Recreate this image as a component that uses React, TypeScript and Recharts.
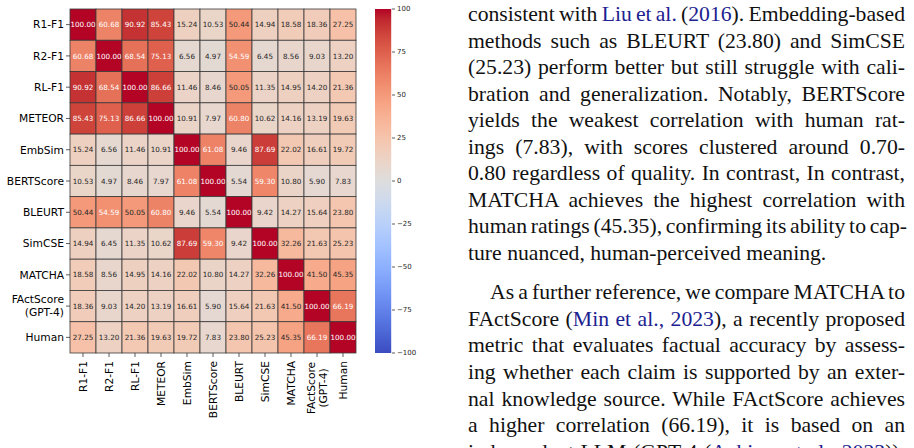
import React from "react";
import { ScatterChart, Scatter, XAxis, YAxis, ComposedChart, Bar } from "recharts";

// ---- data ----
const metrics = [
  "R1-F1", "R2-F1", "RL-F1", "METEOR", "EmbSim", "BERTScore",
  "BLEURT", "SimCSE", "MATCHA", "FActScore\n(GPT-4)", "Human",
];

const r1f1Row = [100.0, 60.68, 90.92, 85.43, 15.24, 10.53, 50.44, 14.94, 18.58, 18.36, 27.25];
const r2f1Row = [60.68, 100.0, 68.54, 75.13, 6.56, 4.97, 54.59, 6.45, 8.56, 9.03, 13.2];
const rlf1Row = [90.92, 68.54, 100.0, 86.66, 11.46, 8.46, 50.05, 11.35, 14.95, 14.2, 21.36];
const meteorRow = [85.43, 75.13, 86.66, 100.0, 10.91, 7.97, 60.8, 10.62, 14.16, 13.19, 19.63];
const embSimRow = [15.24, 6.56, 11.46, 10.91, 100.0, 61.08, 9.46, 87.69, 22.02, 16.61, 19.72];
const bertScoreRow = [10.53, 4.97, 8.46, 7.97, 61.08, 100.0, 5.54, 59.3, 10.8, 5.9, 7.83];
const bleurtRow = [50.44, 54.59, 50.05, 60.8, 9.46, 5.54, 100.0, 9.42, 14.27, 15.64, 23.8];
const simCseRow = [14.94, 6.45, 11.35, 10.62, 87.69, 59.3, 9.42, 100.0, 32.26, 21.63, 25.23];
const matchaRow = [18.58, 8.56, 14.95, 14.16, 22.02, 10.8, 14.27, 32.26, 100.0, 41.5, 45.35];
const factScoreRow = [18.36, 9.03, 14.2, 13.19, 16.61, 5.9, 15.64, 21.63, 41.5, 100.0, 66.19];
const humanRow = [27.25, 13.2, 21.36, 19.63, 19.72, 7.83, 23.8, 25.23, 45.35, 66.19, 100.0];

const correlationRows = [
  r1f1Row, r2f1Row, rlf1Row, meteorRow, embSimRow, bertScoreRow,
  bleurtRow, simCseRow, matchaRow, factScoreRow, humanRow,
];

const colorbarTicks = [-100, -75, -50, -25, 0, 25, 50, 75, 100];
const colorbarRange = [-100, 100];

// ---- body text ----
const paragraphOne = [
  "consistent with {Liu et al.} ({2016}). Embedding-based",
  "methods such as BLEURT (23.80) and SimCSE",
  "(25.23) perform better but still struggle with cali-",
  "bration and generalization. Notably, BERTScore",
  "yields the weakest correlation with human rat-",
  "ings (7.83), with scores clustered around 0.70-",
  "0.80 regardless of quality. In contrast, In contrast,",
  "MATCHA achieves the highest correlation with",
  "human ratings (45.35), confirming its ability to cap-",
  "ture nuanced, human-perceived meaning.",
];
const paragraphTwo = [
  "As a further reference, we compare MATCHA to",
  "FActScore ({Min et al., 2023}), a recently proposed",
  "metric that evaluates factual accuracy by assess-",
  "ing whether each claim is supported by an exter-",
  "nal knowledge source. While FActScore achieves",
  "a higher correlation (66.19), it is based on an",
  "independent LLM (GPT-4 ({Achiam et al., 2023})),",
];

// ---- colour map (coolwarm) ----
const COOLWARM: [number, number, number][] = [
  [59, 76, 192], [68, 90, 204], [77, 104, 215], [87, 117, 225], [98, 130, 234],
  [108, 142, 241], [119, 154, 247], [130, 165, 251], [141, 176, 254], [152, 185, 255],
  [163, 194, 255], [174, 201, 253], [184, 208, 249], [194, 213, 244], [204, 217, 238],
  [213, 219, 230], [221, 221, 221], [229, 216, 209], [236, 211, 197], [241, 204, 185],
  [245, 196, 173], [247, 187, 160], [247, 177, 148], [247, 166, 135], [244, 154, 123],
  [241, 141, 111], [236, 127, 99], [229, 112, 88], [222, 96, 77], [213, 80, 66],
  [203, 62, 56], [192, 40, 47], [180, 4, 38],
];

function coolwarmRgb(t: number): [number, number, number] {
  const c = Math.max(0, Math.min(1, t)) * (COOLWARM.length - 1);
  const i = Math.min(Math.floor(c), COOLWARM.length - 2);
  const f = c - i;
  const a = COOLWARM[i];
  const b = COOLWARM[i + 1];
  return [0, 1, 2].map((k) => a[k] + (b[k] - a[k]) * f) as [number, number, number];
}

const toCss = (rgb: [number, number, number]) =>
  `rgb(${Math.round(rgb[0])},${Math.round(rgb[1])},${Math.round(rgb[2])})`;

function luminance(rgb: [number, number, number]) {
  const lin = rgb.map((v) => {
    const s = v / 255;
    return s <= 0.03928 ? s / 12.92 : Math.pow((s + 0.055) / 1.055, 2.4);
  });
  return 0.2126 * lin[0] + 0.7152 * lin[1] + 0.0722 * lin[2];
}

const valueToT = (v: number) => (v - colorbarRange[0]) / (colorbarRange[1] - colorbarRange[0]);

// ---- layout ----
const CHART_W = 360;
const CHART_H = 448;
const MARGIN = { top: 9, right: 4, bottom: 0, left: 0 };
const Y_AXIS_W = 70;
const X_AXIS_H = 95;
const PLOT_W = CHART_W - MARGIN.left - MARGIN.right - Y_AXIS_W;
const PLOT_H = CHART_H - MARGIN.top - MARGIN.bottom - X_AXIS_H;
const N = metrics.length;
const CELL_W = PLOT_W / N;
const CELL_H = PLOT_H / N;
const SANS = "'DejaVu Sans', sans-serif";
const LABEL_SIZE = 10.7;

const cells = correlationRows.flatMap((row, r) =>
  row.map((value, c) => ({ col: c, row: r, value }))
);
const indexTicks = metrics.map((_, i) => i);

function HeatCell(props: any) {
  const { cx, cy, payload } = props;
  if (cx == null || cy == null) return null;
  const rgb = coolwarmRgb(valueToT(payload.value));
  const txt = luminance(rgb) > 0.408 ? "#262626" : "#ffffff";
  return (
    <g>
      <rect
        x={cx - CELL_W / 2}
        y={cy - CELL_H / 2}
        width={CELL_W}
        height={CELL_H}
        fill={toCss(rgb)}
        stroke="#3a3a3a"
        strokeWidth={0.8}
      />
      <text
        x={cx}
        y={cy}
        dy="0.36em"
        textAnchor="middle"
        fontSize={7.2}
        fontFamily={SANS}
        fill={txt}
      >
        {payload.value.toFixed(2)}
      </text>
    </g>
  );
}

// Bottom labels: rotated, hanging from the tick; stacked lines are centred on each other.
function XTick(props: any) {
  const { x, y, payload } = props;
  const lines = metrics[payload.value].split("\n");
  const gap = 12;
  const start = -((lines.length - 1) * gap) / 2;
  const longest = Math.max(...lines.map((l) => l.length));
  const half = (longest * 0.56 * LABEL_SIZE) / 2;
  return (
    <g>
      {lines.map((ln, i) => (
        <text
          key={i}
          transform={`translate(${x + start + i * gap},${y + 2}) rotate(-90)`}
          textAnchor={lines.length > 1 ? "middle" : "end"}
          dx={lines.length > 1 ? -half : 0}
          dy="0.36em"
          fontSize={LABEL_SIZE}
          fontFamily={SANS}
          fill="#000"
        >
          {ln}
        </text>
      ))}
    </g>
  );
}

// Left labels: right-aligned against the tick, stacked lines centred on the row.
function YTick(props: any) {
  const { x, y, payload } = props;
  const lines = metrics[payload.value].split("\n");
  const gap = 13;
  const start = -((lines.length - 1) * gap) / 2;
  return (
    <g>
      {lines.map((ln, i) => (
        <text
          key={i}
          x={x}
          y={y + start + i * gap}
          dy="0.36em"
          textAnchor="end"
          fontSize={LABEL_SIZE}
          fontFamily={SANS}
          fill="#000"
        >
          {ln}
        </text>
      ))}
    </g>
  );
}

function Heatmap() {
  return (
    <ScatterChart width={CHART_W} height={CHART_H} margin={MARGIN}>
      <XAxis
        type="number"
        dataKey="col"
        domain={[-0.5, N - 0.5]}
        ticks={indexTicks}
        interval={0}
        height={X_AXIS_H}
        tickSize={4}
        tickMargin={2}
        axisLine={false}
        tickLine={{ stroke: "#333", strokeWidth: 0.8 }}
        tick={<XTick />}
      />
      <YAxis
        type="number"
        dataKey="row"
        domain={[-0.5, N - 0.5]}
        ticks={indexTicks}
        interval={0}
        reversed
        width={Y_AXIS_W}
        tickSize={4}
        tickMargin={2}
        axisLine={false}
        tickLine={{ stroke: "#333", strokeWidth: 0.8 }}
        tick={<YTick />}
      />
      <Scatter data={cells} shape={<HeatCell />} isAnimationActive={false} />
    </ScatterChart>
  );
}

function Colorbar() {
  const data = [{ name: "scale", range: colorbarRange }];
  return (
    <ComposedChart
      width={70}
      height={CHART_H}
      data={data}
      margin={{ top: MARGIN.top, right: 0, bottom: X_AXIS_H, left: 4 }}
      barCategoryGap={0}
    >
      <defs>
        <linearGradient id="coolwarmBar" x1="0" y1="0" x2="0" y2="1">
          {COOLWARM.map((c, i) => (
            <stop
              key={i}
              offset={`${(i / (COOLWARM.length - 1)) * 100}%`}
              stopColor={toCss(COOLWARM[COOLWARM.length - 1 - i])}
            />
          ))}
        </linearGradient>
      </defs>
      <XAxis dataKey="name" hide />
      <YAxis
        orientation="right"
        type="number"
        domain={colorbarRange}
        ticks={colorbarTicks}
        interval={0}
        width={48}
        tickSize={3}
        tickMargin={2}
        axisLine={false}
        tickLine={{ stroke: "#333", strokeWidth: 0.8 }}
        tick={{ fontSize: 7, fill: "#262626", fontFamily: SANS }}
        tickFormatter={(v: number) => String(v).replace("-", "\u2212")}
      />
      <Bar dataKey="range" fill="url(#coolwarmBar)" barSize={18} isAnimationActive={false} />
    </ComposedChart>
  );
}

const LINE_H = 26.55;
const SERIF = "'Liberation Serif', 'Times New Roman', serif";

function renderSegments(line: string) {
  return line.split(/(\{[^}]*\})/).map((seg, i) =>
    seg.startsWith("{") ? (
      <span key={i} style={{ color: "#1c2290" }}>
        {seg.slice(1, -1)}
      </span>
    ) : (
      <span key={i}>{seg}</span>
    )
  );
}

function Paragraph({ lines, top, indent, lastJustified }: any) {
  return (
    <div style={{ position: "absolute", left: 468, top, width: 437 }}>
      {lines.map((ln: string, i: number) => {
        const isLast = i === lines.length - 1;
        const justify = !isLast || lastJustified;
        return (
          <div
            key={i}
            style={{
              height: LINE_H,
              lineHeight: `${LINE_H}px`,
              whiteSpace: "nowrap",
              wordSpacing: justify ? "-0.08em" : "normal",
              textAlign: justify ? "justify" : "left",
              textAlignLast: justify ? "justify" : "left",
              textIndent: i === 0 && indent ? 22 : 0,
            } as React.CSSProperties}
          >
            {renderSegments(ln)}
          </div>
        );
      })}
    </div>
  );
}

export default function App() {
  return (
    <div
      style={{
        position: "fixed",
        left: 0,
        top: 0,
        width: 914,
        height: 448,
        overflow: "hidden",
        background: "#fff",
      }}
    >
      <div style={{ position: "absolute", left: 0, top: 0 }}>
        <Heatmap />
      </div>
      <div style={{ position: "absolute", left: 370, top: 0 }}>
        <Colorbar />
      </div>
      <div style={{ fontFamily: SERIF, fontSize: 21.7, color: "#111" }}>
        <Paragraph lines={paragraphOne} top={1.1} indent={false} lastJustified={false} />
        <Paragraph lines={paragraphTwo} top={279.4} indent={true} lastJustified={true} />
      </div>
    </div>
  );
}
